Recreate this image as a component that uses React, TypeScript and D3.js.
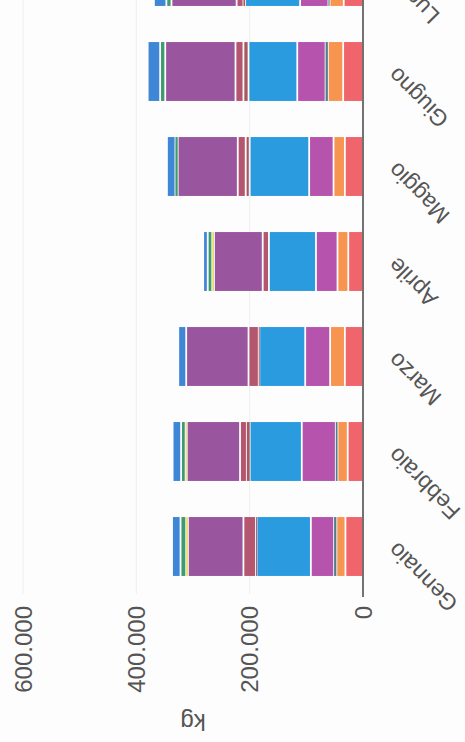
import React from "react";
import * as d3 from "d3";

const months = ["Gennaio", "Febbraio", "Marzo", "Aprile", "Maggio", "Giugno", "Luglio"];
const seriesKeys = ["s1", "s2", "s3", "s4", "s5", "s6", "s7", "s8", "s9", "s10", "s11"];
const s1 = [31000, 27000, 32000, 26000, 32000, 35000, 34000];
const s2 = [16000, 18000, 26000, 19000, 20000, 27000, 25000];
const s3 = [4000, 3000, 0, 0, 0, 4000, 2000];
const s4 = [41000, 60000, 44000, 38000, 43000, 50000, 50000];
const s5 = [96000, 92000, 81000, 83000, 105000, 86000, 97000];
const s6 = [1000, 5000, 1000, 0, 7000, 9000, 3000];
const s7 = [22000, 12000, 18000, 11000, 14000, 14000, 12000];
const s8 = [98000, 94000, 110000, 86000, 106000, 124000, 115000];
const s9 = [3000, 2000, 0, 3000, 0, 0, 0];
const s10 = [10000, 8000, 0, 8000, 4000, 9000, 9000];
const s11 = [15000, 15000, 14000, 8000, 15000, 22000, 22000];
const seriesValues = [s1, s2, s3, s4, s5, s6, s7, s8, s9, s10, s11];
const seriesColors = ["#f0646b", "#f7944f", "#4f7f8a", "#b553ad", "#2b9be0", "#a8585e", "#b4566f", "#9a559f", "#e6dc6e", "#3f9a6e", "#3f86d6"];
const valueTicks = [0, 200000, 400000, 600000];
const axisTitle = "kg";

const W = 465;
const H = 742;

export default function App() {
  const table = months.map((m, i) => {
    const row: any = { month: m };
    seriesKeys.forEach((k, j) => (row[k] = seriesValues[j][i]));
    return row;
  });
  const stacked = d3.stack().keys(seriesKeys)(table);
  const x = d3.scaleLinear().domain([0, 600000]).range([363, 23]);
  const y = d3.scaleBand().domain(months).range([594, -71]).paddingInner(0.38).paddingOuter(0.19);
  const loc = d3.formatLocale({ decimal: ",", thousands: ".", grouping: [3], currency: ["€", ""] });
  const fmt = loc.format(",");
  const font = "'Liberation Sans', Arial, sans-serif";
  const textColor = "#555";

  return (
    <svg width={W} height={H} style={{ position: "absolute", left: 0, top: 0, background: "#fdfdfd" }}>
      <rect x={0} y={0} width={W} height={H} fill="#fdfdfd" />
      {valueTicks.slice(1).map((t) => (
        <line key={"g" + t} x1={x(t)} x2={x(t)} y1={0} y2={594} stroke="#eeeef2" strokeWidth={1} />
      ))}
      {stacked.map((layer, j) => (
        <g key={layer.key} fill={seriesColors[j]}>
          {layer.map((d, i) => {
            const x0 = x(d[0]);
            const x1 = x(d[1]);
            const w = x0 - x1;
            if (w <= 0) return null;
            const inset = w > 3 ? 0.9 : 0;
            return (
              <rect
                key={i}
                x={x1 + inset}
                y={y(months[i])!}
                width={Math.max(1, w - 2 * inset)}
                height={y.bandwidth()}
              />
            );
          })}
        </g>
      ))}
      <line x1={x(0)} x2={x(0)} y1={0} y2={597} stroke="#444" strokeWidth={1.5} />
      {valueTicks.map((t) => (
        <text
          key={"t" + t}
          x={x(t)}
          y={606}
          transform={`rotate(-90, ${x(t)}, 606)`}
          textAnchor="end"
          dominantBaseline="central"
          fontFamily={font}
          fontSize={24}
          fill={textColor}
        >
          {fmt(t)}
        </text>
      ))}
      <text
        x={(x(0) + x(600000)) / 2}
        y={722}
        transform={`rotate(180, ${(x(0) + x(600000)) / 2}, 722)`}
        textAnchor="middle"
        dominantBaseline="central"
        fontFamily={font}
        fontSize={24}
        fill={textColor}
      >
        {axisTitle}
      </text>
      {months.map((m) => {
        const cy = y(m)! + y.bandwidth() / 2;
        return (
          <text
            key={"c" + m}
            x={392}
            y={cy}
            transform={`rotate(225, 392, ${cy})`}
            textAnchor="end"
            dominantBaseline="central"
            fontFamily={font}
            fontSize={23}
            fill={textColor}
          >
            {m}
          </text>
        );
      })}
    </svg>
  );
}
